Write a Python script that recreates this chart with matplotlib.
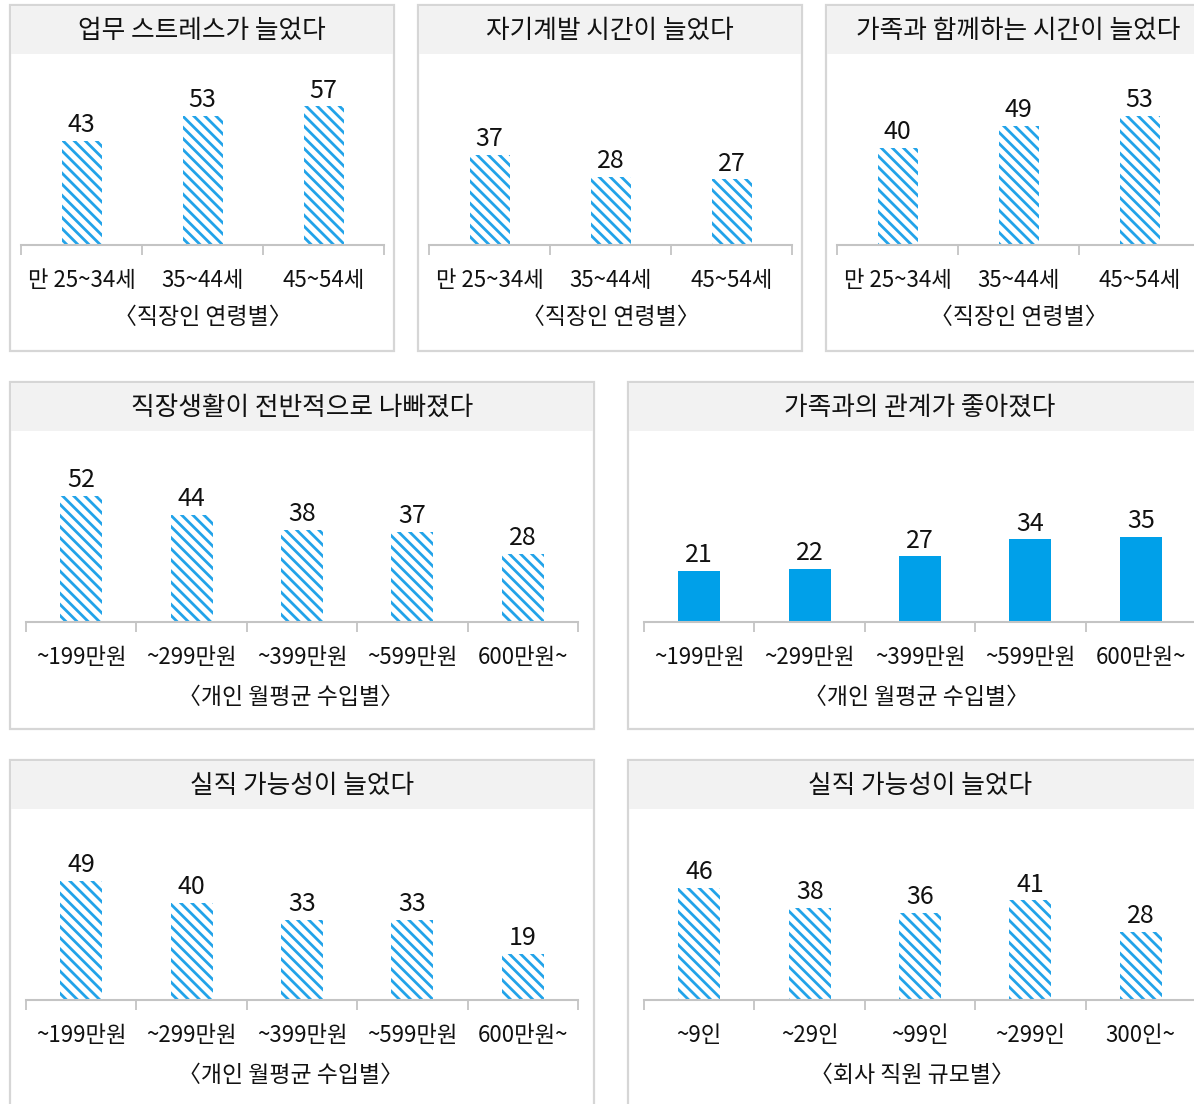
import numpy as np
import matplotlib.pyplot as plt
from matplotlib.patches import Rectangle

plt.rcParams['font.family'] = ['Noto Sans CJK KR', 'DejaVu Sans']
plt.rcParams['hatch.linewidth'] = 2.0

# data
age_groups = ['만 25~34세', '35~44세', '45~54세']
stress_up = [43, 53, 57]
selfdev_up = [37, 28, 27]
family_time_up = [40, 49, 53]

income_groups = ['~199만원', '~299만원', '~399만원', '~599만원', '600만원~']
work_worse = [52, 44, 38, 37, 28]
family_better = [21, 22, 27, 34, 35]
jobloss_income = [49, 40, 33, 33, 19]

size_groups = ['~9인', '~29인', '~99인', '~299인', '300인~']
jobloss_size = [46, 38, 36, 41, 28]

W, H = 1194, 1104
BLUE = '#00a0e9'
HATCH_BLUE = '#22a3e9'
GRID = '#c4c4c4'
BORDER = '#d6d6d6'
BAND = '#f2f2f2'
SCALE = 2.43   # px per unit
YMAX = 75

fig = plt.figure(figsize=(W / 100, H / 100), dpi=100)


def fx(x):
    return x / W


def fy(y):
    return 1 - y / H


def panel(x0, y0, w, h, title, cats, vals, subtitle, cat_w, bar_px, off, sub_off, sub_dx=0, hatched=True):
    # frame and title band
    fig.patches.append(Rectangle((fx(x0), fy(y0 + h)), w / W, h / H, transform=fig.transFigure,
                                 facecolor='white', edgecolor=BORDER, linewidth=1.6, zorder=-2))
    fig.patches.append(Rectangle((fx(x0 + 1), fy(y0 + 49)), (w - 2) / W, 48 / H, transform=fig.transFigure,
                                 facecolor=BAND, edgecolor='none', zorder=-1))
    fig.text(fx(x0 + w / 2), fy(y0 + 26), title, ha='center', va='center', fontsize=18.5, color='#111111')

    base = y0 + 240
    n = len(cats)
    ax = fig.add_axes([fx(x0 + off), fy(base), n * cat_w / W, YMAX * SCALE / H])
    x = np.arange(n)
    bw = bar_px / cat_w
    if hatched:
        bars = ax.bar(x, vals, bw, color='white', edgecolor=HATCH_BLUE, hatch='\\\\\\', linewidth=0)
    else:
        bars = ax.bar(x, vals, bw, color=BLUE, linewidth=0)
    ax.bar_label(bars, padding=2, fontsize=18, color='#111111')
    ax.set_xlim(-0.5, n - 0.5)
    ax.set_ylim(0, YMAX)
    ax.set_facecolor('none')
    for s in ['top', 'right', 'left']:
        ax.spines[s].set_visible(False)
    ax.spines['bottom'].set_color(GRID)
    ax.spines['bottom'].set_linewidth(1.5)
    ax.set_yticks([])
    ax.set_xticks(x, cats)
    ax.set_xticks(np.arange(n + 1) - 0.5, minor=True)
    ax.tick_params(axis='x', which='major', length=0, pad=17, labelsize=16, labelcolor='#111111')
    ax.tick_params(axis='x', which='minor', length=7, width=1.3, color=GRID)
    fig.text(fx(x0 + off + n * cat_w / 2 + sub_dx), fy(base + sub_off), subtitle, ha='center', va='center',
             fontsize=16.5, color='#111111')


panel(10, 5, 384, 346, '업무 스트레스가 늘었다', age_groups, stress_up, '〈직장인 연령별〉', 121, 40, 11, 72)
panel(418, 5, 384, 346, '자기계발 시간이 늘었다', age_groups, selfdev_up, '〈직장인 연령별〉', 121, 40, 11, 72)
panel(826, 5, 384, 346, '가족과 함께하는 시간이 늘었다', age_groups, family_time_up, '〈직장인 연령별〉', 121, 40, 11, 72)

panel(10, 382, 584, 347, '직장생활이 전반적으로 나빠졌다', income_groups, work_worse, '〈개인 월평균 수입별〉',
      110.4, 42, 16, 76, sub_dx=-11)
panel(628, 382, 584, 347, '가족과의 관계가 좋아졌다', income_groups, family_better, '〈개인 월평균 수입별〉',
      110.4, 42, 16, 76, sub_dx=-4, hatched=False)

panel(10, 760, 584, 347, '실직 가능성이 늘었다', income_groups, jobloss_income, '〈개인 월평균 수입별〉',
      110.4, 42, 16, 76, sub_dx=-11)
panel(628, 760, 584, 347, '실직 가능성이 늘었다', size_groups, jobloss_size, '〈회사 직원 규모별〉',
      110.4, 42, 16, 76, sub_dx=-8)

fig.savefig('out.png', dpi=100)
